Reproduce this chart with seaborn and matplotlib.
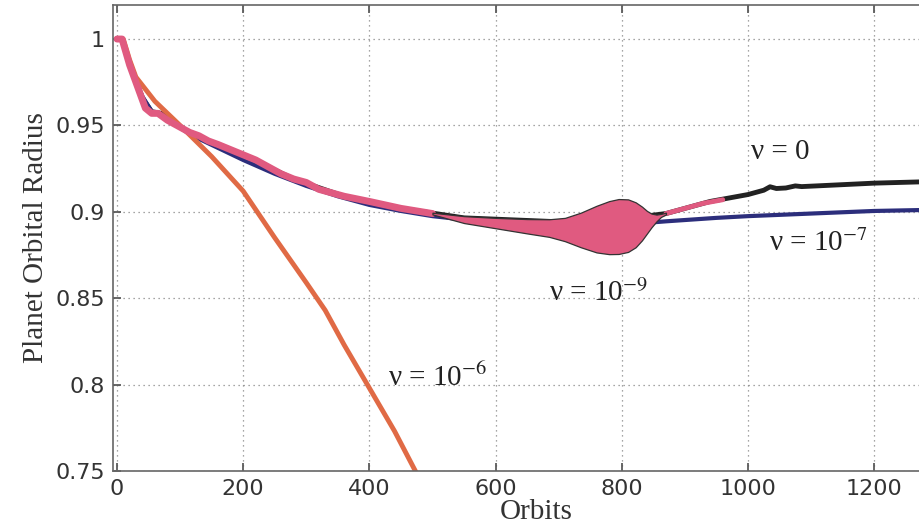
import numpy as np
import pandas as pd
import matplotlib
matplotlib.use("Agg")
import matplotlib.pyplot as plt
import seaborn as sns

# nu = 1e-6 (orange)
orb_n6 = [0, 10, 20, 30, 60, 100, 150, 200, 250, 300, 330, 360, 400, 440, 470, 480]
rad_n6 = [1.0, 1.0, 0.988, 0.978, 0.964, 0.950, 0.932, 0.912, 0.885, 0.859, 0.843, 0.823, 0.798, 0.773, 0.752, 0.745]

# nu = 1e-7 (blue)
orb_n7 = [0, 8, 20, 40, 55, 70, 90, 120, 160, 200, 250, 300, 350, 400, 450, 500, 550, 600, 700, 800,
          870, 950, 1000, 1100, 1200, 1340]
rad_n7 = [1.0, 1.0, 0.985, 0.967, 0.958, 0.956, 0.951, 0.944, 0.937, 0.930, 0.922, 0.915, 0.909, 0.904,
          0.9005, 0.8975, 0.8955, 0.894, 0.8925, 0.8925, 0.8945, 0.8965, 0.8975, 0.899, 0.9005, 0.9015]

# nu = 0 (black)
orb_n0 = [0, 8, 20, 40, 55, 70, 100, 160, 200, 280, 360, 450, 550, 650, 750, 870, 900, 940, 970, 1000,
          1025, 1035, 1045, 1060, 1075, 1085, 1120, 1200, 1340]
rad_n0 = [1.0, 1.0, 0.985, 0.966, 0.958, 0.957, 0.949, 0.938, 0.933, 0.919, 0.909, 0.902, 0.8965, 0.895,
          0.8935, 0.899, 0.902, 0.906, 0.908, 0.910, 0.9125, 0.9145, 0.9135, 0.9138, 0.9150, 0.9146,
          0.9152, 0.9166, 0.918]

# nu = 1e-9 (pink), line part
orb_n9 = [0, 8, 20, 35, 45, 55, 65, 80, 100, 115, 130, 145, 160, 180, 200, 220, 240, 260, 280, 300,
          320, 340, 360, 400, 450, 500]
rad_n9 = [1.0, 1.0, 0.985, 0.970, 0.960, 0.957, 0.957, 0.953, 0.949, 0.946, 0.944, 0.941, 0.939, 0.936,
          0.933, 0.930, 0.926, 0.922, 0.919, 0.917, 0.913, 0.911, 0.909, 0.906, 0.902, 0.899]

# nu = 1e-9 oscillating envelope
orb_env = [500, 550, 600, 650, 685, 710, 735, 760, 780, 795, 810, 822, 832, 840, 847, 855, 862, 870]
env_hi = [0.8995, 0.8975, 0.8965, 0.8958, 0.8957, 0.8965, 0.8995, 0.9035, 0.9062, 0.9074, 0.9072,
          0.9055, 0.9030, 0.9005, 0.8990, 0.8984, 0.8988, 0.8995]
env_lo = [0.8985, 0.8935, 0.8905, 0.8875, 0.8855, 0.8830, 0.8795, 0.8765, 0.8755, 0.8756, 0.8768,
          0.8795, 0.8835, 0.8875, 0.8910, 0.8945, 0.8970, 0.8985]

# nu = 1e-9 after envelope
orb_n9b = [870, 900, 930, 960]
rad_n9b = [0.8990, 0.9020, 0.9050, 0.9070]

labels = ["ν = 0", "ν = 10$^{-7}$", "ν = 10$^{-9}$", "ν = 10$^{-6}$"]
label_x = [1005, 1033, 685, 429]
label_y = [0.9347, 0.8820, 0.8530, 0.8040]

sns.set_theme(style="white")
plt.rcParams["font.family"] = ["DejaVu Sans"]
plt.rcParams["mathtext.fontset"] = "stix"

c_orange = "#e06a45"
c_blue = "#2c2e7c"
c_pink = "#e05a80"
c_black = "#222222"

fig = plt.figure(figsize=(9.2, 5.29), dpi=100)
ax = fig.add_axes([113 / 920, 58 / 529, 847 / 920, 466 / 529])

sns.lineplot(x=orb_n0, y=rad_n0, ax=ax, color=c_black, lw=3.5, sort=False)
sns.lineplot(x=orb_n7, y=rad_n7, ax=ax, color=c_blue, lw=3, sort=False)
sns.lineplot(x=orb_n6, y=rad_n6, ax=ax, color=c_orange, lw=3.5, sort=False)
sns.lineplot(x=orb_n9, y=rad_n9, ax=ax, color=c_pink, lw=5, sort=False)
ax.fill_between(orb_env, env_lo, env_hi, facecolor=c_pink, edgecolor="#333333", lw=0.9, zorder=3)
sns.lineplot(x=orb_n9b, y=rad_n9b, ax=ax, color=c_pink, lw=3.5, sort=False)

for t, x, y in zip(labels, label_x, label_y):
    ax.text(x, y, t, fontsize=21, family="Liberation Serif", color="#222222", ha="left", va="center")

ax.set_xlim(-6.3, 1336)
ax.set_ylim(0.75, 1.0197)
ax.set_xticks(np.arange(0, 1400, 200))
ax.set_yticks([0.75, 0.8, 0.85, 0.9, 0.95, 1.0])
ax.set_yticklabels(["0.75", "0.8", "0.85", "0.9", "0.95", "1"])
ax.grid(True, color="#888888", ls=(0, (1, 3)), lw=0.9)
ax.tick_params(direction="in", length=6, top=True, left=True, bottom=True, right=False,
               labelsize=16, labelcolor="#333333", color="#555555", pad=6)
for s in ["left", "top", "bottom"]:
    ax.spines[s].set_color("#666666")
    ax.spines[s].set_linewidth(1.2)
ax.spines["right"].set_visible(False)

ax.set_xlabel("Orbits", fontsize=21, family="Liberation Serif", color="#333333", labelpad=0)
ax.set_ylabel("Planet Orbital Radius", fontsize=21, family="Liberation Serif", color="#333333", labelpad=4)

fig.savefig("out.png", dpi=100)
